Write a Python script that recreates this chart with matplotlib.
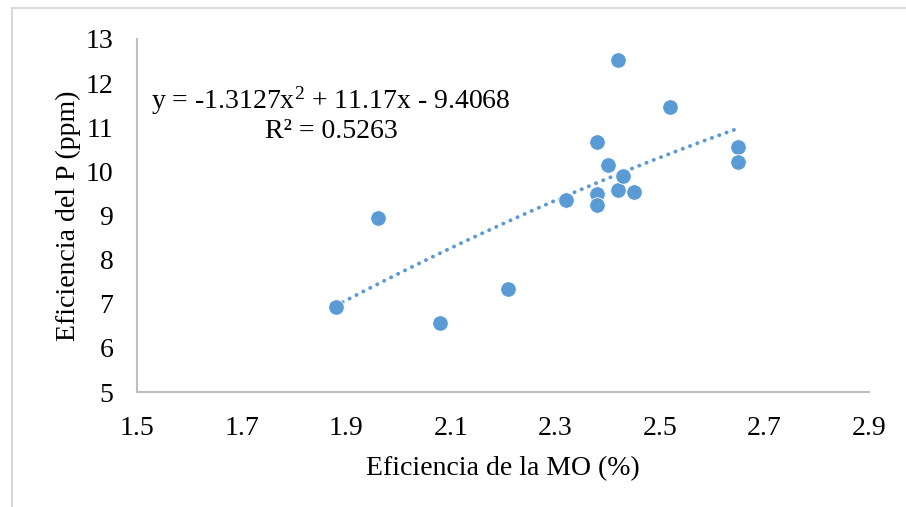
import numpy as np
import matplotlib
matplotlib.use("Agg")
import matplotlib.pyplot as plt
from matplotlib.lines import Line2D

plt.rcParams['font.family'] = ['Liberation Serif', 'DejaVu Serif']
plt.rcParams['mathtext.fontset'] = 'custom'
plt.rcParams['mathtext.rm'] = 'Liberation Serif'
plt.rcParams['mathtext.it'] = 'Liberation Serif'

# data
mo_eff = [1.88, 1.96, 2.08, 2.21, 2.32, 2.38, 2.38, 2.38, 2.40, 2.42, 2.42, 2.43, 2.45, 2.52, 2.65, 2.65]
p_eff = [6.93, 8.94, 6.56, 7.33, 9.35, 10.67, 9.49, 9.24, 10.15, 12.53, 9.57, 9.90, 9.53, 11.47, 10.56, 10.21]

# polynomial trendline (order 2) as printed on the chart
coef = [-1.3127, 11.17, -9.4068]
r2 = 0.5263

x_ticks = [1.5, 1.7, 1.9, 2.1, 2.3, 2.5, 2.7, 2.9]
y_ticks = [5, 6, 7, 8, 9, 10, 11, 12, 13]

blue = '#5b9bd5'
grey = '#bfbfbf'
fs = 20

W, H = 906, 507
fig = plt.figure(figsize=(W / 100, H / 100), dpi=100)
ax = fig.add_axes([137 / W, 1 - 392 / H, (869 - 137) / W, (392 - 39) / H])

# chart-area border (cropped on right and bottom)
fig.add_artist(Line2D([12 / W, 1.0], [1 - 8 / H, 1 - 8 / H], transform=fig.transFigure,
                      color='#d9d9d9', lw=1.5))
fig.add_artist(Line2D([12 / W, 12 / W], [0.0, 1 - 8 / H], transform=fig.transFigure,
                      color='#d9d9d9', lw=1.5))

xt = np.linspace(min(mo_eff), max(mo_eff), 200)
ax.plot(xt, np.polyval(coef, xt), color=blue, lw=2.8,
        linestyle=(0, (0.05, 1.95)), dash_capstyle='round', zorder=2)

ax.scatter(mo_eff, p_eff, s=125, color=blue, edgecolors='white', linewidths=0.6, zorder=3)

ax.set_xlim(1.5, 2.9)
ax.set_ylim(5, 13)
ax.set_xticks(x_ticks)
ax.set_yticks(y_ticks)
ax.set_xticklabels([f'{v:.1f}' for v in x_ticks])
ax.tick_params(length=0, labelsize=fs, colors='black')
ax.tick_params(axis='y', pad=17)
ax.tick_params(axis='x', pad=17)

for s in ['top', 'right']:
    ax.spines[s].set_visible(False)
for s in ['left', 'bottom']:
    ax.spines[s].set_color(grey)
    ax.spines[s].set_linewidth(1.5)

ax.set_xlabel('Eficiencia de la MO (%)', fontsize=fs, labelpad=11)
ax.set_ylabel('Eficiencia del P (ppm)', fontsize=fs, labelpad=3)

ax.text(151 / W, 1 - 101 / H, r'y = -1.3127x$^2$ + 11.17x - 9.4068', transform=fig.transFigure,
        fontsize=fs, va='center', ha='left')
ax.text(265 / W, 1 - 131 / H, f'R² = {r2}', transform=fig.transFigure,
        fontsize=fs, va='center', ha='left')

fig.savefig('out.png', dpi=100)
